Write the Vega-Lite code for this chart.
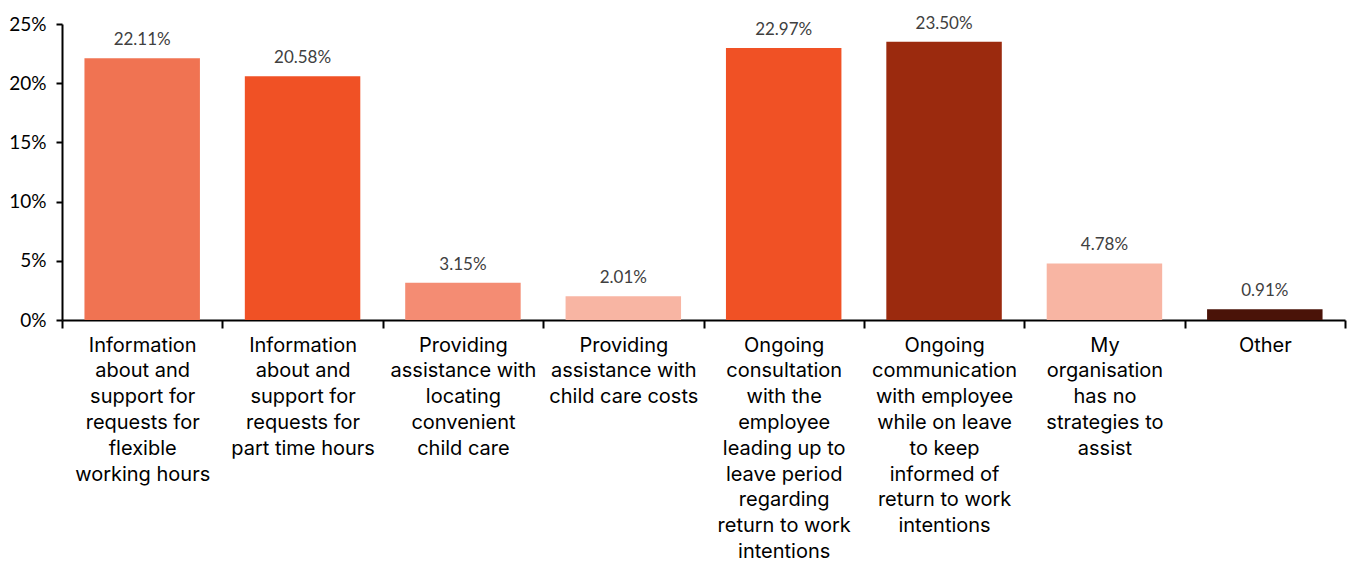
{
  "$schema": "https://vega.github.io/schema/vega-lite/v6.json",
  "autosize": {"type": "none"},
  "width": 1283,
  "height": 296,
  "padding": {"left": 62, "top": 24, "right": 6, "bottom": 243},
  "background": "white",
  "config": {"view": {"stroke": null}, "font": "Lato"},
  "data": {"values": [
    {"cat": "Information|about and|support for|requests for|flexible|working hours", "value": 0.2211, "color": "#F07352"},
    {"cat": "Information|about and|support for|requests for|part time hours", "value": 0.2058, "color": "#F05125"},
    {"cat": "Providing|assistance with|locating|convenient|child care", "value": 0.0315, "color": "#F48C73"},
    {"cat": "Providing|assistance with|child care costs", "value": 0.0201, "color": "#F8B5A3"},
    {"cat": "Ongoing|consultation|with the|employee|leading up to|leave period|regarding|return to work|intentions", "value": 0.2297, "color": "#F05125"},
    {"cat": "Ongoing|communication|with employee|while on leave|to keep|informed of|return to work|intentions", "value": 0.2350, "color": "#9B2A0E"},
    {"cat": "My|organisation|has no|strategies to|assist", "value": 0.0478, "color": "#F8B5A3"},
    {"cat": "Other", "value": 0.0091, "color": "#4A1308"}
  ]},
  "encoding": {
    "x": {
      "field": "cat", "type": "nominal", "sort": null,
      "scale": {"paddingInner": 0, "paddingOuter": 0},
      "axis": {
        "title": null, "labelAngle": 0, "labelExpr": "datum.value ? split(datum.value, '|') : ''",
        "labelFont": "Inter", "labelFontSize": 20, "labelColor": "#000000",
        "labelLineHeight": 25.8, "labelPadding": 7, "labelBaseline": "top",
        "tickBand": "extent", "tickColor": "#000000", "tickWidth": 2, "tickSize": 8,
        "domainColor": "#000000", "domainWidth": 2, "labelLimit": 0
      }
    },
    "y": {
      "field": "value", "type": "quantitative",
      "scale": {"domain": [0, 0.25]},
      "axis": {
        "title": null, "format": ".0%", "values": [0, 0.05, 0.1, 0.15, 0.2, 0.25],
        "grid": false, "labelFont": "Lato", "labelFontSize": 19, "labelColor": "#000000",
        "tickColor": "#000000", "tickWidth": 2, "tickSize": 6, "labelPadding": 10,
        "domainColor": "#000000", "domainWidth": 2
      }
    }
  },
  "layer": [
    {"mark": {"type": "bar", "width": {"band": 0.72}}, "encoding": {"color": {"field": "color", "type": "nominal", "scale": null}}},
    {"mark": {"type": "text", "dy": -18, "font": "Lato", "fontSize": 17, "color": "#404040"},
     "encoding": {"text": {"field": "value", "type": "quantitative", "format": ".2%"}}}
  ]
}
